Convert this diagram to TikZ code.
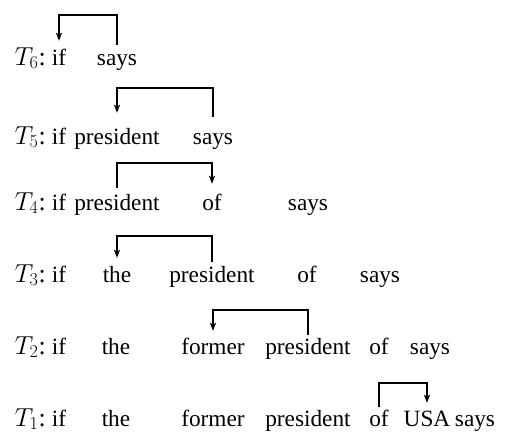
\documentclass[tikz,border=0pt]{standalone}
\usepackage{fix-cm}
\usepackage{fontspec}
\setmainfont{Liberation Serif}
\usetikzlibrary{arrows.meta}
\begin{document}
\begin{tikzpicture}[x=1pt,y=-1pt,
  w/.style={inner sep=0pt, anchor=base, text height=21pt, text depth=5pt, font=\fontsize{23.3}{28}\selectfont},
  lab/.style={inner sep=0pt, anchor=base east, font=\fontsize{26}{30}\selectfont},
  dep/.style={line width=1.7pt, -{Stealth[length=8pt,width=6pt,inset=2pt]}, shorten >=4pt}]
\useasboundingbox (0,0) rectangle (507,437);
% T6
\node[lab] (l6) at (46,65) {$T_6$:};
\node[w] (if6) at (59,65) {if};
\node[w] (says6) at (117,65) {says};
\draw[dep] ([yshift=-1pt]says6.north) -- ++(0,-30) -| ([yshift=-1pt]if6.north);
% T5
\node[lab] (l5) at (46,144) {$T_5$:};
\node[w] (if5) at (59,144) {if};
\node[w] (pres5) at (117,144) {president};
\node[w] (says5) at (213,144) {says};
\draw[dep] ([yshift=6pt]says5.north) -- ++(0,-29) -| ([yshift=6pt]pres5.north);
% T4
\node[lab] (l4) at (46,210) {$T_4$:};
\node[w] (if4) at (59,210) {if};
\node[w] (pres4) at (117,210) {president};
\node[w] (of4) at (212,210) {of};
\node[w] (says4) at (308,210) {says};
\draw[dep] ([yshift=1pt]pres4.north) -- ++(0,-25) -| ([yshift=1pt]of4.north);
% T3
\node[lab] (l3) at (46,282) {$T_3$:};
\node[w] (if3) at (59,282) {if};
\node[w] (the3) at (117,282) {the};
\node[w] (pres3) at (212,282) {president};
\node[w] (of3) at (307,282) {of};
\node[w] (says3) at (380,282) {says};
\draw[dep] ([yshift=-1pt]pres3.north) -- ++(0,-26) -| ([yshift=-1pt]the3.north);
% T2
\node[lab] (l2) at (46,354) {$T_2$:};
\node[w] (if2) at (59,354) {if};
\node[w] (the2) at (116,354) {the};
\node[w] (form2) at (213,354) {former};
\node[w] (pres2) at (308,354) {president};
\node[w] (of2) at (379,354) {of};
\node[w] (says2) at (430,354) {says};
\draw[dep] ([yshift=-2pt]pres2.north) -- ++(0,-25) -| ([yshift=-2pt]form2.north);
% T1
\node[lab] (l1) at (46,426) {$T_1$:};
\node[w] (if1) at (59,426) {if};
\node[w] (the1) at (116,426) {the};
\node[w] (form1) at (213,426) {former};
\node[w] (pres1) at (308,426) {president};
\node[w] (of1) at (379,426) {of};
\node[w] (usa1) at (427,426) {USA};
\node[w] (says1) at (475,426) {says};
\draw[dep] ([yshift=-2pt]of1.north) -- ++(0,-24) -| ([yshift=-2pt]usa1.north);
\end{tikzpicture}
\end{document}
